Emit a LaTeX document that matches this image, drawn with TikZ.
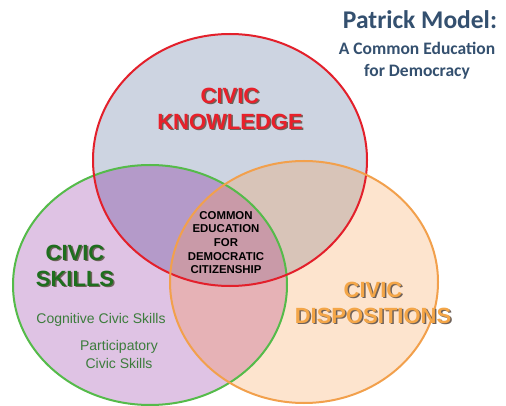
\documentclass[tikz,border=0pt]{standalone}
\usepackage{fontspec}
\setmainfont{Liberation Sans}
\newfontfamily\titlefont{Carlito}
\definecolor{kfill}{HTML}{CDD4E1}
\definecolor{sfill}{HTML}{DFC3E4}
\definecolor{dfill}{HTML}{FDE4CE}
\definecolor{ksfill}{HTML}{B49AC9}
\definecolor{kdfill}{HTML}{D8C4B8}
\definecolor{sdfill}{HTML}{E6B2B6}
\definecolor{allfill}{HTML}{C99AA8}
\definecolor{kline}{HTML}{E3202B}
\definecolor{sline}{HTML}{55BB4A}
\definecolor{dline}{HTML}{F2A04C}
\definecolor{ktext}{HTML}{E8202A}
\definecolor{stext}{HTML}{1E6E1E}
\definecolor{smalltext}{HTML}{3C7C3C}
\definecolor{dtext}{HTML}{F4A648}
\definecolor{shadowc}{HTML}{4A3A30}
\definecolor{titlec}{HTML}{34506F}
\tikzset{
  bigtext/.style={font=\bfseries\fontsize{22}{26}\selectfont, align=center, inner sep=0pt},
  shade text/.style={bigtext, text=shadowc!80},
  smalllbl/.style={font=\fontsize{14}{18}\selectfont, align=center, text=smalltext, inner sep=0pt},
  centertext/.style={font=\bfseries\fontsize{11.4}{13.6}\selectfont, align=center, text=black, inner sep=0pt},
  ring/.style={line width=2pt}
}
\begin{document}
\begin{tikzpicture}[x=1pt,y=-1pt]
\useasboundingbox (0,0) rectangle (506,406);
\fill[white] (0,0) rectangle (506,406);
% base fills
\fill[kfill] (230,160) ellipse [x radius=137, y radius=126];
\fill[sfill] (150,285) ellipse [x radius=137, y radius=120];
\fill[dfill] (304,282) ellipse [x radius=134, y radius=121];
% overlaps
\begin{scope}
  \clip (230,160) ellipse [x radius=137, y radius=126];
  \fill[ksfill] (150,285) ellipse [x radius=137, y radius=120];
  \fill[kdfill] (304,282) ellipse [x radius=134, y radius=121];
\end{scope}
\begin{scope}
  \clip (150,285) ellipse [x radius=137, y radius=120];
  \clip (304,282) ellipse [x radius=134, y radius=121];
  \fill[sdfill] (0,0) rectangle (506,406);
\end{scope}
\begin{scope}
  \clip (230,160) ellipse [x radius=137, y radius=126];
  \clip (150,285) ellipse [x radius=137, y radius=120];
  \fill[allfill] (304,282) ellipse [x radius=134, y radius=121];
\end{scope}
% outlines
\draw[ring, sline] (150,285) ellipse [x radius=137, y radius=120];
\draw[ring, kline] (230,160) ellipse [x radius=137, y radius=126];
\draw[ring, dline] (304,282) ellipse [x radius=134, y radius=121];
% title
\node[font=\titlefont\bfseries\fontsize{25.5}{28}\selectfont, text=titlec, inner sep=0pt] (title) at (420,20) {Patrick Model:};
\node[font=\titlefont\bfseries\fontsize{17.5}{22}\selectfont, text=titlec, inner sep=0pt, align=center] (subtitle) at (417,61) {A Common Education\\for Democracy};
% knowledge
\node[shade text] (kshadow) at (231.5,110) {CIVIC\\KNOWLEDGE};
\node[bigtext, text=ktext] (know) at (230,108.5) {CIVIC\\KNOWLEDGE};
% skills
\node[shade text] (sshadow) at (76.5,267) {CIVIC\\SKILLS};
\node[bigtext, text=stext] (skills) at (75,265.5) {CIVIC\\SKILLS};
\node[smalllbl] (cog) at (101,320) {Cognitive Civic Skills};
\node[smalllbl] (part) at (119,354) {Participatory\\Civic Skills};
% dispositions
\node[shade text] (dshadow) at (374.5,304) {CIVIC\\DISPOSITIONS};
\node[bigtext, text=dtext] (disp) at (373,302.5) {CIVIC\\DISPOSITIONS};
% center
\node[centertext] (common) at (226,242.5) {COMMON\\EDUCATION\\FOR\\DEMOCRATIC\\CITIZENSHIP};
\end{tikzpicture}
\end{document}
